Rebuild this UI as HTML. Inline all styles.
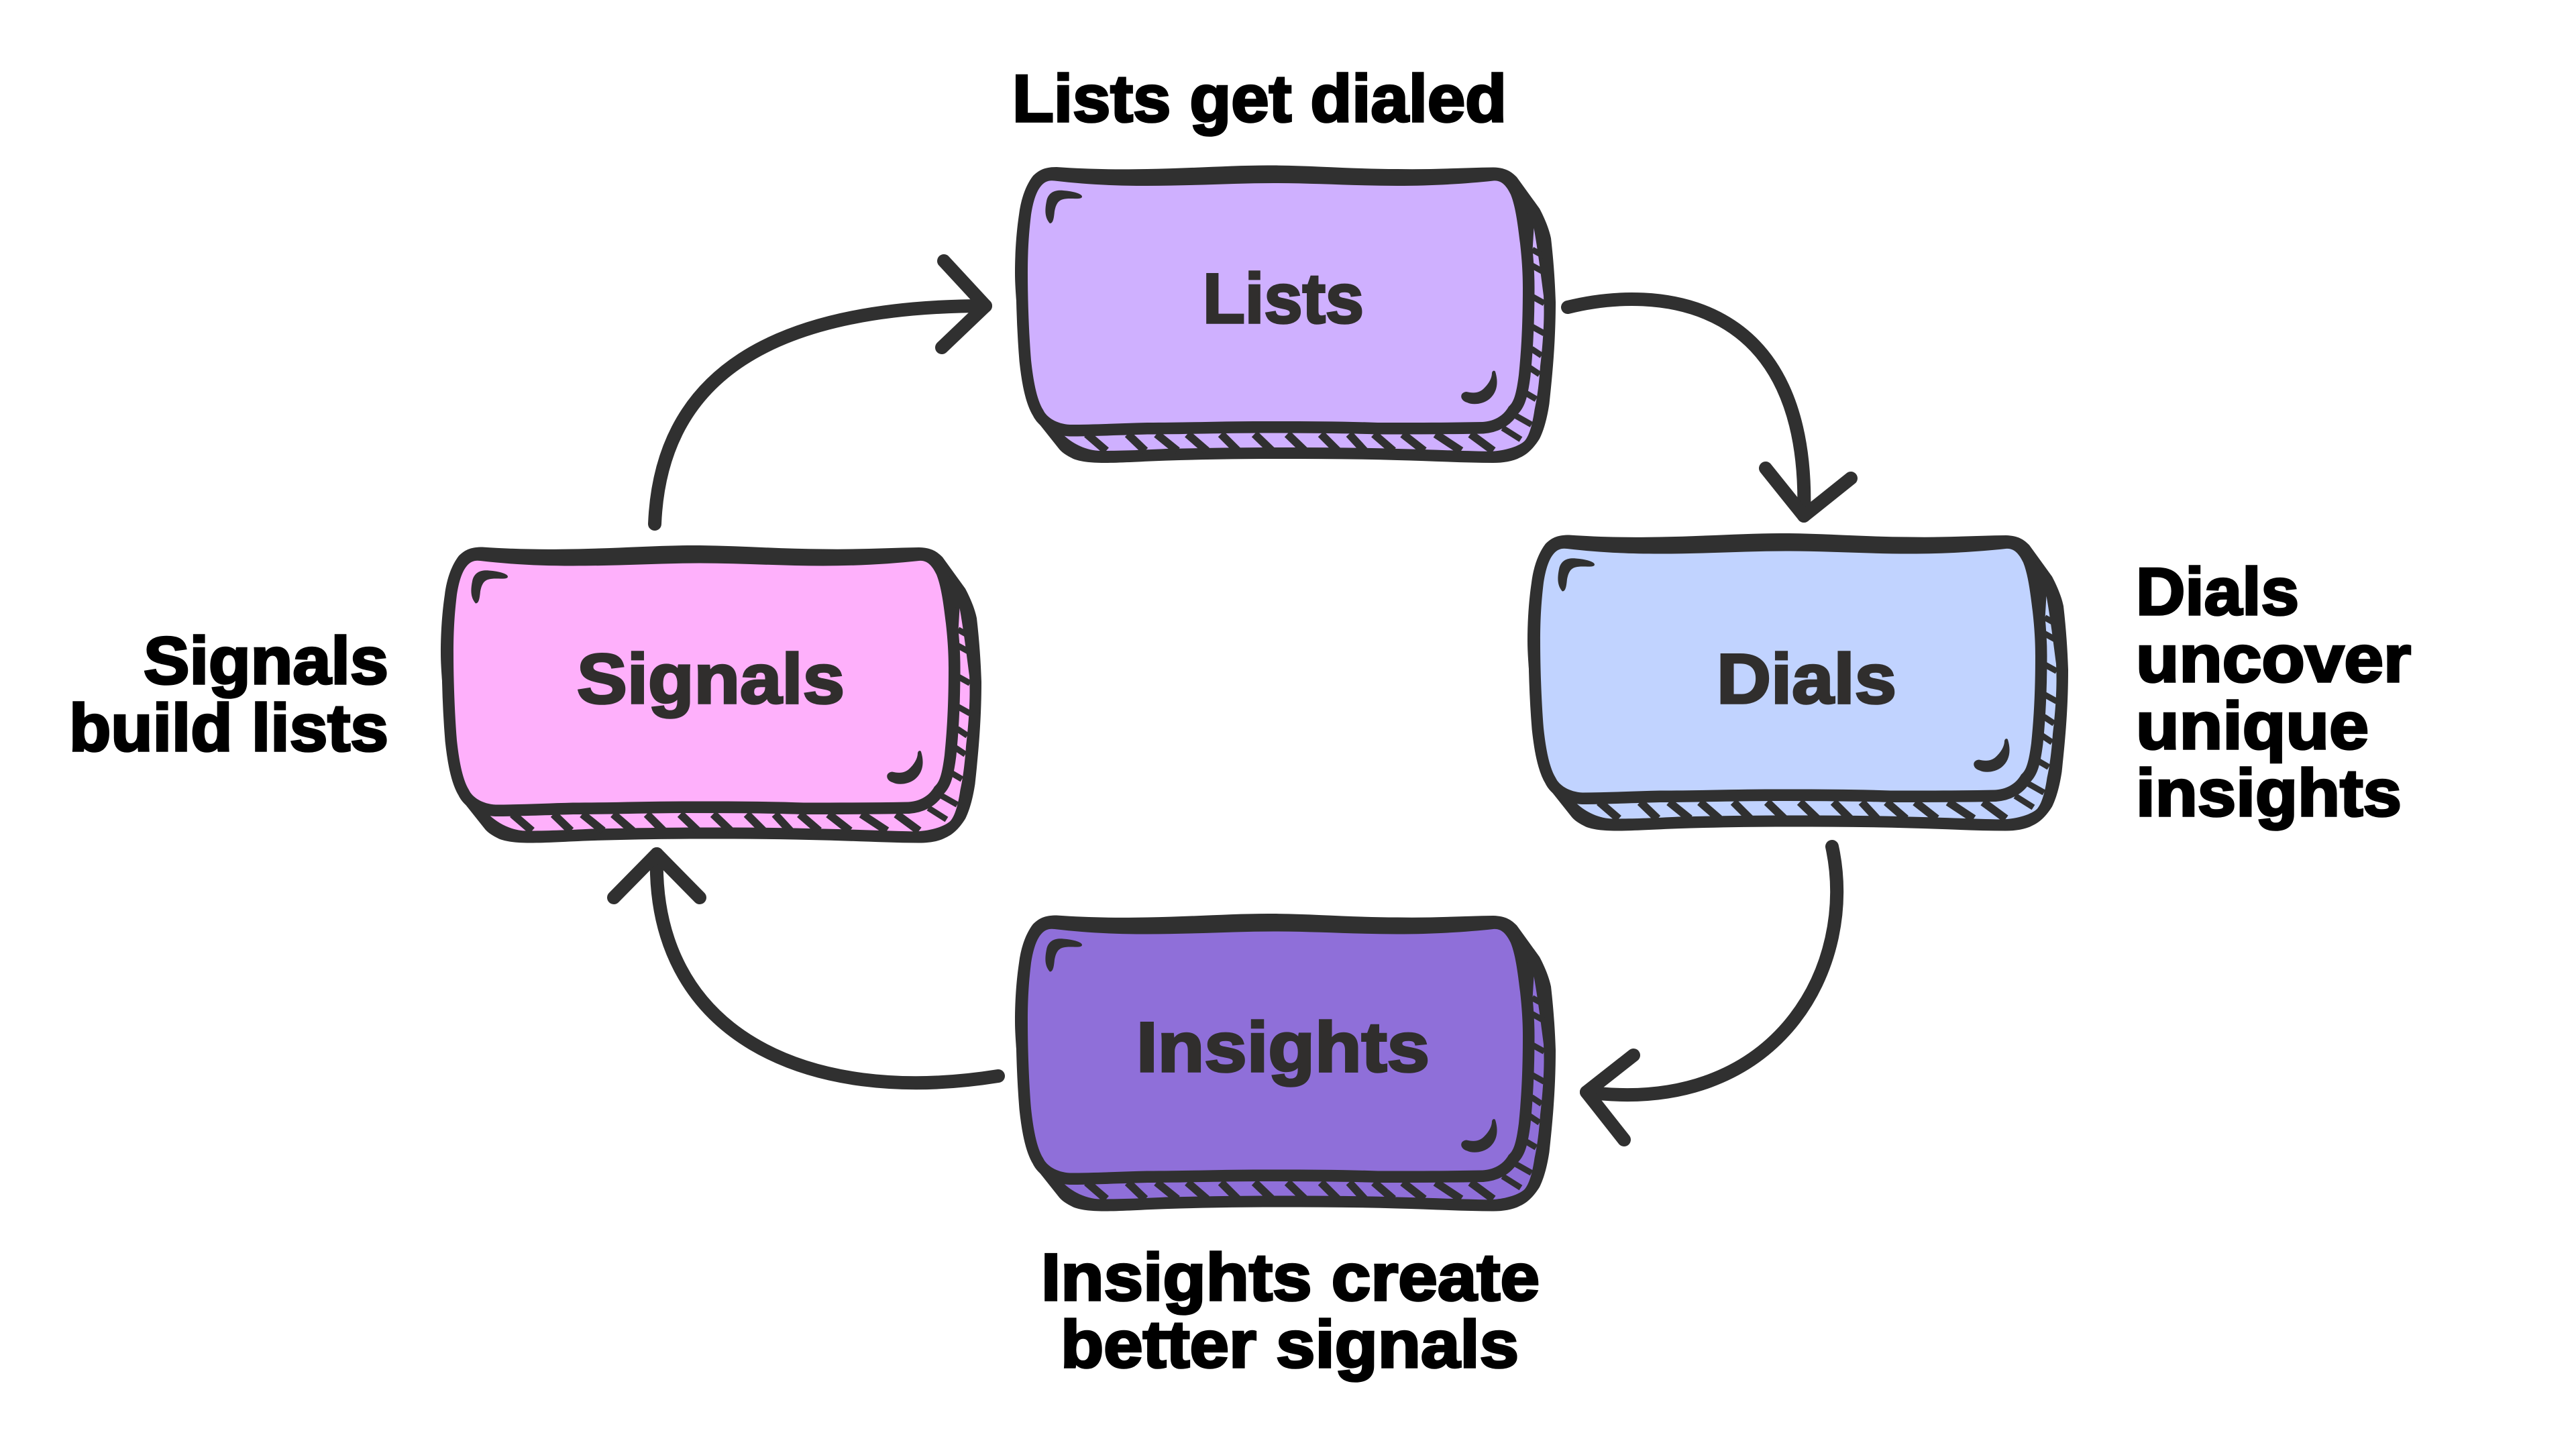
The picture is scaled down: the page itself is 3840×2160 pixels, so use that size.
<!DOCTYPE html>
<html>
<head>
<meta charset="utf-8">
<style>
html,body{margin:0;padding:0;background:#fff;width:3840px;height:2160px;overflow:hidden}
svg{display:block}
text{font-family:"Liberation Sans",sans-serif;font-weight:700}
.l{font-size:99px;fill:#000;stroke:#000;stroke-width:3.5px}
.b{font-size:105px;fill:#302e2d;stroke:#302e2d;stroke-width:3.5px}
</style>
</head>
<body>
<svg width="3840" height="2160" viewBox="0 0 3840 2160" xmlns="http://www.w3.org/2000/svg">
<defs>
<g id="box">
<path fill="#303030" d="M1575,249 C1620,252 1660,253 1710,252 C1780,251 1840,246 1899,246.5 C1960,247 2020,252 2083,252 C2135,253 2180,250 2226,249.5 C2245,250 2253,256 2261,264 L2295,311 C2305,330 2310,345 2312,355 C2316,390 2318,420 2319,450 C2319,510 2314,560 2309.5,602 C2306,625 2301,642 2295,654 C2285,670 2275,678 2266,682 C2255,688 2240,690 2226,690 C2180,690 2130,687 2083,686 C2020,684 1960,684 1899,684 C1840,684 1790,685 1738,686.6 C1700,688 1670,690 1646,690 C1625,690 1610,688 1600,684 C1590,679 1583,675 1577,667 L1546,628 C1537,612 1532,600 1529,580 C1524,550 1521,520 1519,494 C1516,460 1513,430 1513,407 C1513,370 1516,340 1519,320 C1522,295 1530,275 1540,262 C1550,252 1560,249 1575,249 Z"/>
<path fill="currentColor" d="M2286.5,340 C2292,370 2297,410 2301,441 C2303,480 2299,520 2296,546 C2294,575 2291,595 2287.5,611 C2284,635 2279,650 2273,657 C2265,665 2245,672 2220,673 C2170,672 2130,670 2083,669 C2020,667 1960,667 1899,667 C1840,667 1790,668 1738,669 C1700,671 1670,672 1641,672 C1620,672 1600,662 1586,649 L1652,640 L2203,640 L2249,620 L2270,580 L2280,450 Z"/>
<g stroke="#303030" fill="none">
<path stroke-width="12" d="M1620,647L1649,672M1681,647L1707,672M1724,647L1755,672M1770,647L1799,672M1820,647L1845,672M1870,647L1896,672M1919,647L1945,672M1969,647L1994,672M2011,647L2034,672M2048,647L2077,672M2091,647L2123,672M2140,647L2178,672M2192,647L2226,672"/>
<path stroke-width="9" d="M2240,638L2267,655M2260,620L2283,633M2273,585L2290,595M2280,548L2295,558M2283,520L2298,530M2284,487L2302,497M2284,442L2302,452M2284,396L2302,406M2284,372L2302,382"/>
</g>
<path fill="currentColor" stroke="#303030" stroke-width="35" paint-order="stroke" stroke-linejoin="round" d="M1572,269.5 C1620,275 1660,277 1710,277 C1780,277 1840,273 1899,273 C1960,273 2020,277 2083,277 C2135,277 2185,274 2226,269.5 C2240,268 2247,280 2252,290 C2260,310 2263,340 2266,363 C2269,390 2270,410 2270,429 C2270,480 2268,520 2264,559 C2260,590 2256,600 2249,606 C2240,622 2225,628 2210,629 C2160,630 2110,630 2054,630 C2000,628 1940,628 1882,628 C1820,628 1770,630 1710,630 C1670,631 1630,633 1595,633 C1575,632 1560,622 1555,611 C1545,595 1540,565 1537,537 C1534,500 1532,450 1532,407 C1532,370 1534,345 1537,320 C1540,300 1545,285 1552,277 C1558,270 1564,268.5 1572,269.5 Z"/>
<path fill="#303030" d="M1565,333 C1558,325 1557,315 1560,300 C1563,285 1575,283 1585,284 C1600,285 1613,289 1613,293 C1613,297 1605,296 1595,296 C1580,296 1575,300 1572,315 C1571,325 1570,333 1565,333 Z"/>
<path fill="#303030" d="M2229,554 C2234,570 2232,585 2220,595 C2210,603 2195,604 2187,600 C2176,597 2175,585 2186,584 C2195,586 2205,587 2213,578 C2221,570 2224,562 2224,556 C2225,552 2228,552 2229,554 Z"/>
</g>
</defs>

<use href="#box" color="#cfb0ff"/>
<use href="#box" color="#feb0fb" transform="translate(-856,566.5)"/>
<use href="#box" color="#c1d3ff" transform="translate(764,548.5)"/>
<use href="#box" color="#8f6fd9" transform="translate(0,1115.5)"/>

<g fill="none" stroke="#303030" stroke-width="20" stroke-linecap="round" stroke-linejoin="round">
<path d="M976,781 C985,560 1150,456 1469,456"/>
<path d="M1407,389 L1469,456 L1404,518"/>
<path d="M2337,458 C2470,425 2700,440 2689,769"/>
<path d="M2632,698 L2689,769 L2759,713"/>
<path d="M2731,1262 C2770,1440 2650,1665 2365,1628"/>
<path d="M2435,1573 L2365,1628 L2421,1699"/>
<path d="M1488,1604 C1200,1650 970,1540 979,1273"/>
<path d="M915,1338 L979,1273 L1043,1338"/>
</g>

<text class="l" x="1509" y="181" textLength="737" lengthAdjust="spacingAndGlyphs">Lists get dialed</text>
<text class="l" x="214" y="1019" textLength="365" lengthAdjust="spacingAndGlyphs">Signals</text>
<text class="l" x="103" y="1119" textLength="476" lengthAdjust="spacingAndGlyphs">build lists</text>
<text class="l" x="3184" y="916" textLength="243" lengthAdjust="spacingAndGlyphs">Dials</text>
<text class="l" x="3184" y="1016" textLength="410" lengthAdjust="spacingAndGlyphs">uncover</text>
<text class="l" x="3184" y="1116" textLength="347" lengthAdjust="spacingAndGlyphs">unique</text>
<text class="l" x="3184" y="1216" textLength="396" lengthAdjust="spacingAndGlyphs">insights</text>
<text class="l" x="1552" y="1938" textLength="743" lengthAdjust="spacingAndGlyphs">Insights create</text>
<text class="l" x="1581" y="2038" textLength="683" lengthAdjust="spacingAndGlyphs">better signals</text>

<text class="b" x="1793" y="481" textLength="240" lengthAdjust="spacingAndGlyphs">Lists</text>
<text class="b" x="860" y="1048" textLength="399" lengthAdjust="spacingAndGlyphs">Signals</text>
<text class="b" x="2559" y="1048" textLength="268" lengthAdjust="spacingAndGlyphs">Dials</text>
<text class="b" x="1694" y="1597" textLength="437" lengthAdjust="spacingAndGlyphs">Insights</text>
</svg>
</body>
</html>
